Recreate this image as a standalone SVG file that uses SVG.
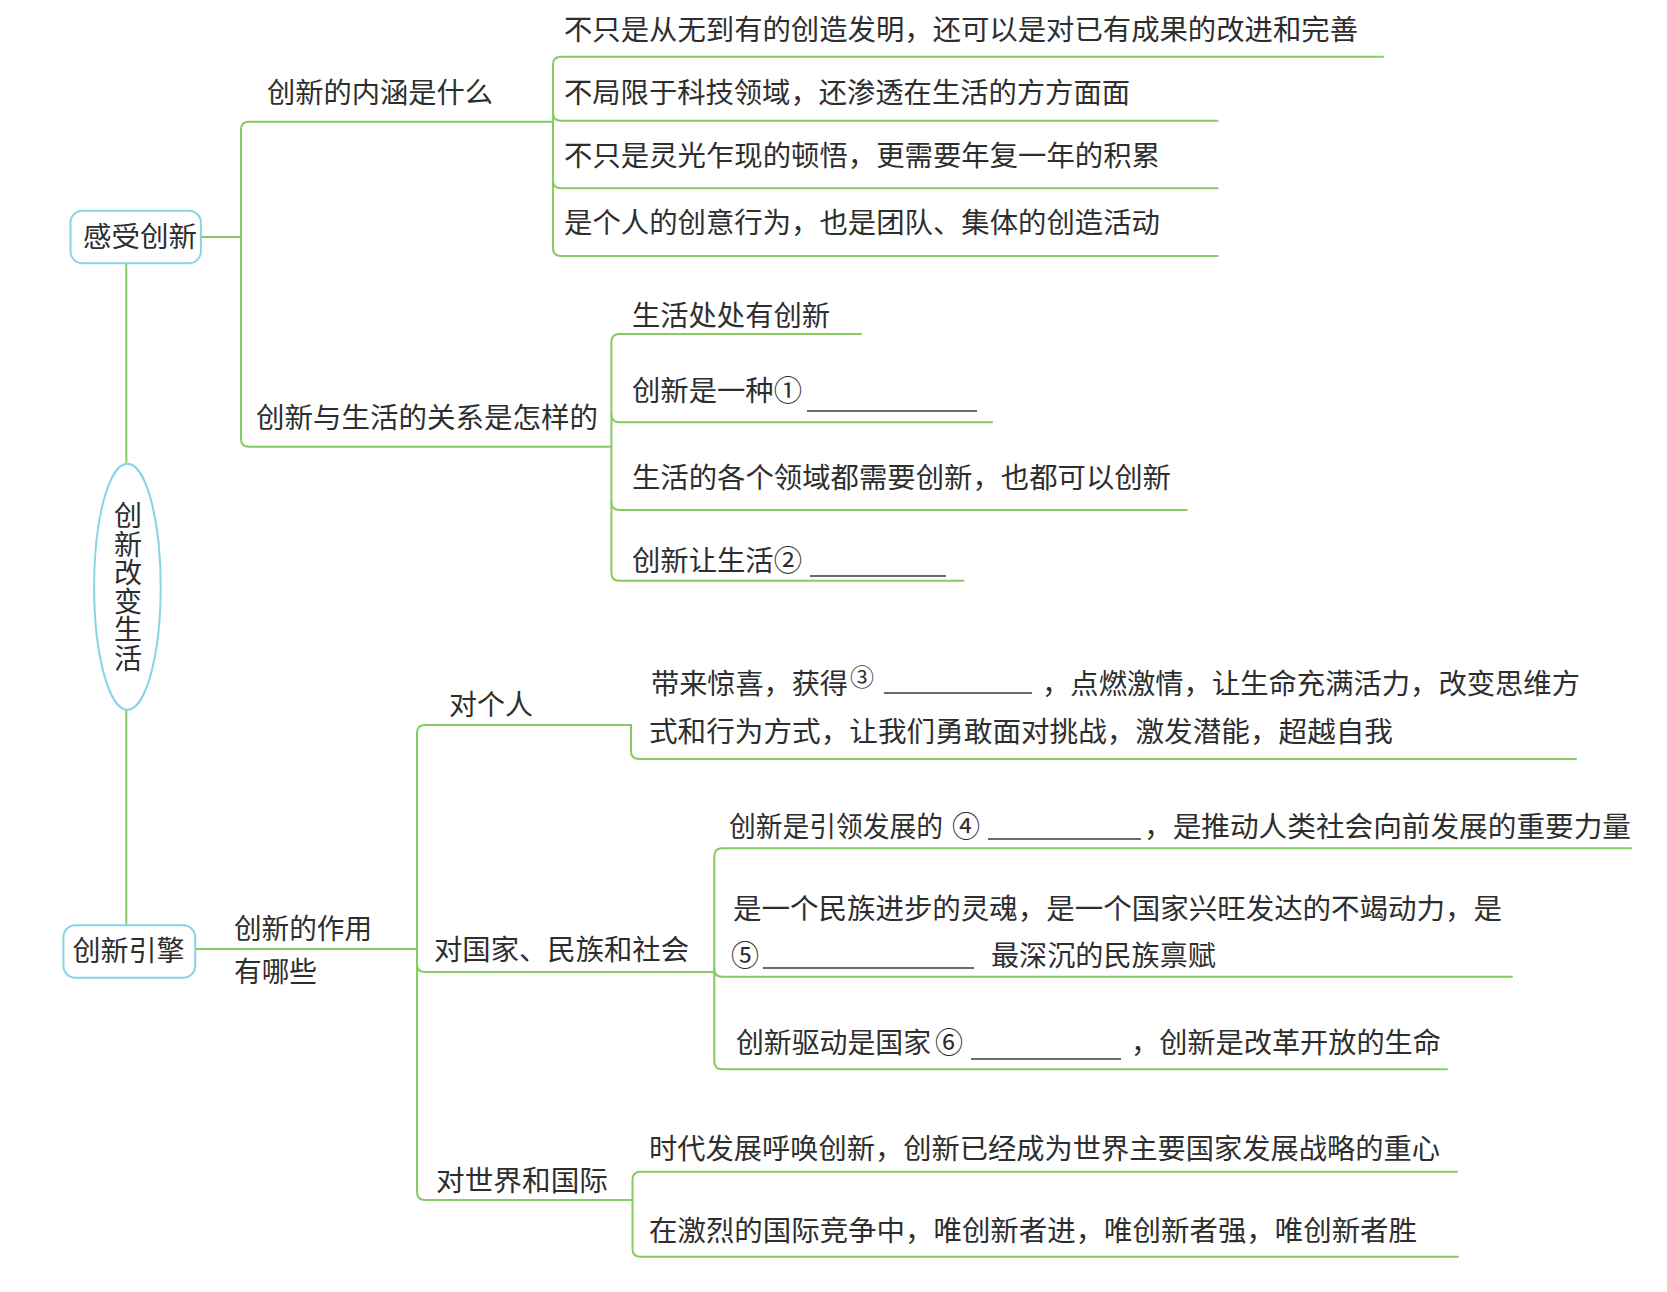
<svg xmlns="http://www.w3.org/2000/svg" width="1667" height="1292" viewBox="0 0 1667 1292">
<style>
.bg{fill:#ffffff}
.c{fill:none;stroke:#86cc63;stroke-width:2;stroke-linecap:round;stroke-linejoin:round}
.box{fill:#ffffff;stroke:#8ad3e6;stroke-width:2}
.t{font-family:"Noto Sans CJK SC","Noto Sans",sans-serif;font-size:28px;fill:#2e2e2e}
.v{writing-mode:vertical-rl;text-orientation:upright;letter-spacing:0.5px}
.sup{font-size:24px}
.blank{stroke:#3a3a3a;stroke-width:1.5}
</style>
<rect class="bg" x="0" y="0" width="1667" height="1292"/>

<g id="connectors">
  <path class="c" d="M126.3,263.3 V463.7"/>
  <path class="c" d="M126.3,709.8 V925.3"/>
  <path class="c" d="M201,237 H241"/>
  <path class="c" d="M553,121.7 H249 Q241,121.7 241,129.7 V438.7 Q241,446.7 249,446.7 H611.4"/>
  <path class="c" d="M1383,56.7 H561 Q553,56.7 553,64.7 V248 Q553,256 561,256 H1217.6"/>
  <path class="c" d="M553,112.7 Q553,120.7 561,120.7 H1217.6"/>
  <path class="c" d="M553,180.3 Q553,188.3 561,188.3 H1217.6"/>
  <path class="c" d="M861,334 H619.4 Q611.4,334 611.4,342 V572.7 Q611.4,580.7 619.4,580.7 H963.5"/>
  <path class="c" d="M611.4,414.3 Q611.4,422.3 619.4,422.3 H992"/>
  <path class="c" d="M611.4,502 Q611.4,510 619.4,510 H1186.7"/>

  <path class="c" d="M195.2,949 H417"/>
  <path class="c" d="M631,725 H425 Q417,725 417,733 V1192 Q417,1200 425,1200 H632.5"/>
  <path class="c" d="M417,964 Q417,972 425,972 H714.3"/>
  <path class="c" d="M631,725 V751 Q631,759 639,759 H1576"/>
  <path class="c" d="M1631,848.3 H722.3 Q714.3,848.3 714.3,856.3 V1061.3 Q714.3,1069.3 722.3,1069.3 H1447"/>
  <path class="c" d="M714.3,968.7 Q714.3,976.7 722.3,976.7 H1512"/>
  <path class="c" d="M1457,1171.7 H640.5 Q632.5,1171.7 632.5,1179.7 V1248.7 Q632.5,1256.7 640.5,1256.7 H1458"/>
</g>

<g id="node-ganshou">
  <rect class="box" x="70.5" y="210.7" width="130.4" height="52.6" rx="12"/>
  <text class="t" x="83" y="247" textLength="114" lengthAdjust="spacingAndGlyphs">感受创新</text>
</g>

<g id="node-root">
  <ellipse class="box" cx="127.4" cy="586.8" rx="33.3" ry="123"/>
  <text class="t v" x="128" y="501.6">创新改变生活</text>
</g>

<g id="node-yinqing">
  <rect class="box" x="63.4" y="925.3" width="131.8" height="52.4" rx="12"/>
  <text class="t" x="72.5" y="961" textLength="112" lengthAdjust="spacingAndGlyphs">创新引擎</text>
</g>

<g id="node-neihan">
  <text class="t" x="267" y="103" textLength="226" lengthAdjust="spacingAndGlyphs">创新的内涵是什么</text>
</g>
<g id="node-neihan-1">
  <text class="t" x="564" y="40" textLength="794" lengthAdjust="spacingAndGlyphs">不只是从无到有的创造发明，还可以是对已有成果的改进和完善</text>
</g>
<g id="node-neihan-2">
  <text class="t" x="564" y="102.5" textLength="566" lengthAdjust="spacingAndGlyphs">不局限于科技领域，还渗透在生活的方方面面</text>
</g>
<g id="node-neihan-3">
  <text class="t" x="564" y="166" textLength="596" lengthAdjust="spacingAndGlyphs">不只是灵光乍现的顿悟，更需要年复一年的积累</text>
</g>
<g id="node-neihan-4">
  <text class="t" x="564" y="232.5" textLength="596" lengthAdjust="spacingAndGlyphs">是个人的创意行为，也是团队、集体的创造活动</text>
</g>

<g id="node-guanxi">
  <text class="t" x="256" y="428" textLength="342" lengthAdjust="spacingAndGlyphs">创新与生活的关系是怎样的</text>
</g>
<g id="node-guanxi-1">
  <text class="t" x="632" y="326" textLength="198" lengthAdjust="spacingAndGlyphs">生活处处有创新</text>
</g>
<g id="node-guanxi-2">
  <text class="t" x="632" y="401" textLength="170" lengthAdjust="spacingAndGlyphs">创新是一种①</text>
  <line class="blank" x1="807" y1="411" x2="977" y2="411"/>
</g>
<g id="node-guanxi-3">
  <text class="t" x="632" y="487.5" textLength="539" lengthAdjust="spacingAndGlyphs">生活的各个领域都需要创新，也都可以创新</text>
</g>
<g id="node-guanxi-4">
  <text class="t" x="632" y="571" textLength="170" lengthAdjust="spacingAndGlyphs">创新让生活②</text>
  <line class="blank" x1="810" y1="576" x2="946" y2="576"/>
</g>

<g id="node-zuoyong">
  <text class="t" x="234" y="939" textLength="138" lengthAdjust="spacingAndGlyphs">创新的作用</text>
  <text class="t" x="234" y="981.6" textLength="83" lengthAdjust="spacingAndGlyphs">有哪些</text>
</g>

<g id="node-geren">
  <text class="t" x="449" y="715" textLength="84" lengthAdjust="spacingAndGlyphs">对个人</text>
</g>
<g id="node-geren-1">
  <text class="t" x="651" y="694" textLength="197" lengthAdjust="spacingAndGlyphs">带来惊喜，获得</text>
  <text class="t sup" x="850" y="686">③</text>
  <line class="blank" x1="884" y1="693" x2="1032" y2="693"/>
  <text class="t" x="1042" y="694" textLength="538" lengthAdjust="spacingAndGlyphs">，点燃激情，让生命充满活力，改变思维方</text>
  <text class="t" x="649" y="742" textLength="744" lengthAdjust="spacingAndGlyphs">式和行为方式，让我们勇敢面对挑战，激发潜能，超越自我</text>
</g>

<g id="node-guojia">
  <text class="t" x="434" y="960" textLength="255" lengthAdjust="spacingAndGlyphs">对国家、民族和社会</text>
</g>
<g id="node-guojia-1">
  <text class="t" x="729" y="837" textLength="214" lengthAdjust="spacingAndGlyphs">创新是引领发展的</text>
  <text class="t" x="952" y="837">④</text>
  <line class="blank" x1="988" y1="839" x2="1141" y2="839"/>
  <text class="t" x="1144" y="837" textLength="487" lengthAdjust="spacingAndGlyphs">，是推动人类社会向前发展的重要力量</text>
</g>
<g id="node-guojia-2">
  <text class="t" x="733" y="919" textLength="769" lengthAdjust="spacingAndGlyphs">是一个民族进步的灵魂，是一个国家兴旺发达的不竭动力，是</text>
  <text class="t" x="731" y="966">⑤</text>
  <line class="blank" x1="763" y1="968" x2="974" y2="968"/>
  <text class="t" x="991" y="966" textLength="225" lengthAdjust="spacingAndGlyphs">最深沉的民族禀赋</text>
</g>
<g id="node-guojia-3">
  <text class="t" x="736" y="1052.5" textLength="195" lengthAdjust="spacingAndGlyphs">创新驱动是国家</text>
  <text class="t" x="935" y="1052.5">⑥</text>
  <line class="blank" x1="971" y1="1059" x2="1121" y2="1059"/>
  <text class="t" x="1131" y="1052.5" textLength="310" lengthAdjust="spacingAndGlyphs">，创新是改革开放的生命</text>
</g>

<g id="node-shijie">
  <text class="t" x="436" y="1191" textLength="172" lengthAdjust="spacingAndGlyphs">对世界和国际</text>
</g>
<g id="node-shijie-1">
  <text class="t" x="649" y="1159" textLength="791" lengthAdjust="spacingAndGlyphs">时代发展呼唤创新，创新已经成为世界主要国家发展战略的重心</text>
</g>
<g id="node-shijie-2">
  <text class="t" x="649" y="1241" textLength="768" lengthAdjust="spacingAndGlyphs">在激烈的国际竞争中，唯创新者进，唯创新者强，唯创新者胜</text>
</g>
</svg>
